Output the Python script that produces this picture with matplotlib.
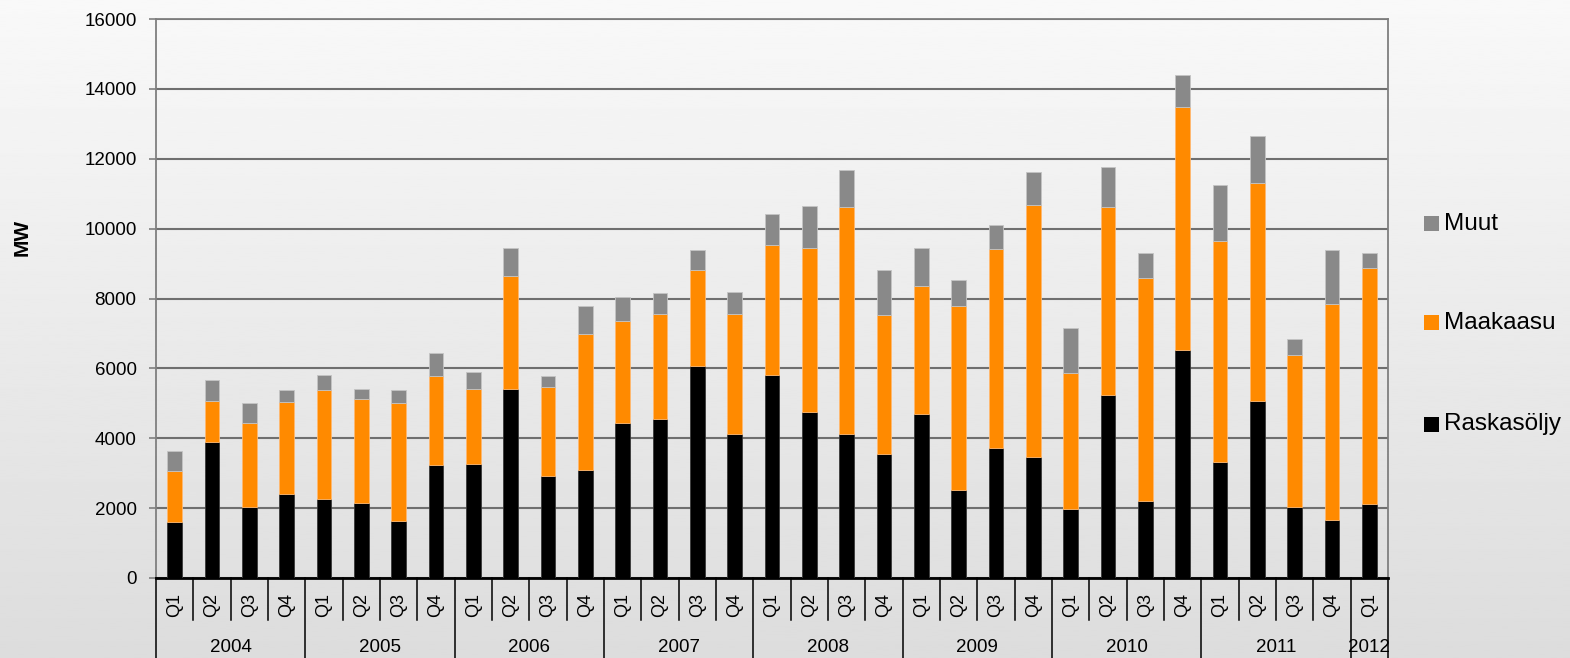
import numpy as np
import matplotlib
matplotlib.use("Agg")
import matplotlib.pyplot as plt
from matplotlib.patches import Rectangle

plt.rcParams['font.family'] = ['Liberation Sans', 'DejaVu Sans']

years = ["2004", "2005", "2006", "2007", "2008", "2009", "2010", "2011", "2012"]
quarters = ["Q1", "Q2", "Q3", "Q4"] * 8 + ["Q1"]

raskasoljy = [1610, 3900, 2020, 2390, 2250, 2160, 1620, 3230, 3270, 5410, 2920,
              3090, 4430, 4560, 6070, 4120, 5810, 4740, 4120, 3540, 4700, 2510,
              3720, 3460, 1980, 5230, 2210, 6530, 3320, 5060, 2020, 1670, 2130]
maakaasu = [1445, 1170, 2415, 2635, 3120, 2960, 3390, 2550, 2150, 3220, 2540,
            3890, 2920, 3000, 2740, 3440, 3710, 4700, 6510, 3980, 3670, 5270,
            5710, 7230, 3890, 5400, 6380, 6960, 6340, 6250, 4370, 6170, 6730]
muut = [570, 610, 570, 350, 450, 300, 360, 670, 490, 810, 315,
        810, 700, 590, 570, 620, 890, 1200, 1040, 1290, 1080, 760,
        670, 940, 1290, 1120, 720, 900, 1600, 1340, 450, 1560, 440]

series_names = ["Raskasöljy", "Maakaasu", "Muut"]
colors = ["#000000", "#ff8a00", "#898989"]
edgecols = ["#3a3a3a", "#ffb870", "#c4c4c4"]

W, H = 1570, 658
fig = plt.figure(figsize=(W / 100, H / 100), dpi=100)

# background gradient
bg = fig.add_axes([0, 0, 1, 1], zorder=-10)
grad = np.linspace(0.975, 0.865, 256).reshape(-1, 1)
bg.imshow(grad, cmap="gray", vmin=0, vmax=1, aspect="auto", extent=[0, 1, 0, 1])
bg.axis("off")

L, R, T, B = 156, 1388, 19, 578
ax = fig.add_axes([L / W, 1 - B / H, (R - L) / W, (B - T) / H])
ax.patch.set_alpha(0)

n = len(raskasoljy)
x = np.arange(n)
ras = np.array(raskasoljy)
maa = np.array(maakaasu)
mu = np.array(muut)
bw = 0.4
ax.bar(x, ras, width=bw, color=colors[0], edgecolor=edgecols[0], linewidth=0.6, zorder=3)
ax.bar(x, maa, bottom=ras, width=bw, color=colors[1], edgecolor=edgecols[1], linewidth=0.6, zorder=3)
ax.bar(x, mu, bottom=ras + maa, width=bw, color=colors[2], edgecolor=edgecols[2], linewidth=0.6, zorder=3)

ax.set_xlim(-0.5, n - 0.5)
ax.set_ylim(0, 16000)
ax.set_yticks(np.arange(0, 16001, 2000))
ax.tick_params(axis='y', length=5, width=1.2, color="#7f7f7f", pad=9, labelsize=13.5)
ax.set_xticks([])
ax.yaxis.grid(True, color="#6f6f6f", linewidth=1.5, zorder=1)
ax.set_axisbelow(True)
for s in ["left", "right", "top"]:
    ax.spines[s].set_color("#7f7f7f")
    ax.spines[s].set_linewidth(1.3)
ax.spines["bottom"].set_color("#000000")
ax.spines["bottom"].set_linewidth(2)

trans = ax.get_xaxis_transform()
ph = B - T
qy = -(605 - B) / ph
yy = -(648 - B) / ph
sep_short = -(620 - B) / ph
sep_long = -(H + 5 - B) / ph

for i, q in enumerate(quarters):
    ax.text(i, qy, q, rotation=90, ha="center", va="center", fontsize=13,
            transform=trans, clip_on=False)

# separators
for i in range(0, n + 1):
    xb = i - 0.5
    long = (i % 4 == 0) or i == n
    ax.plot([xb, xb], [0, sep_long if long else sep_short], color="black",
            linewidth=1.1, transform=trans, clip_on=False, zorder=5)

for k, yr in enumerate(years):
    start = k * 4
    end = min(start + 4, n)
    ax.text((start + end - 1) / 2, yy, yr, ha="center", va="center", fontsize=13.5,
            transform=trans, clip_on=False)

fig.text(22 / W, 1 - 237 / H, "MW", rotation=90, ha="center", va="center",
         fontsize=15, fontweight="bold")

# legend
leg_y = [424, 323, 224]
for name, c, yc in zip(series_names, colors, leg_y):
    fig.patches.append(Rectangle((1424 / W, 1 - (yc + 7.5) / H), 15 / W, 15 / H,
                                 transform=fig.transFigure, facecolor=c,
                                 edgecolor="none"))
    fig.text(1444 / W, 1 - yc / H, name, ha="left", va="center", fontsize=17.5)

fig.savefig("out.png", dpi=100)
